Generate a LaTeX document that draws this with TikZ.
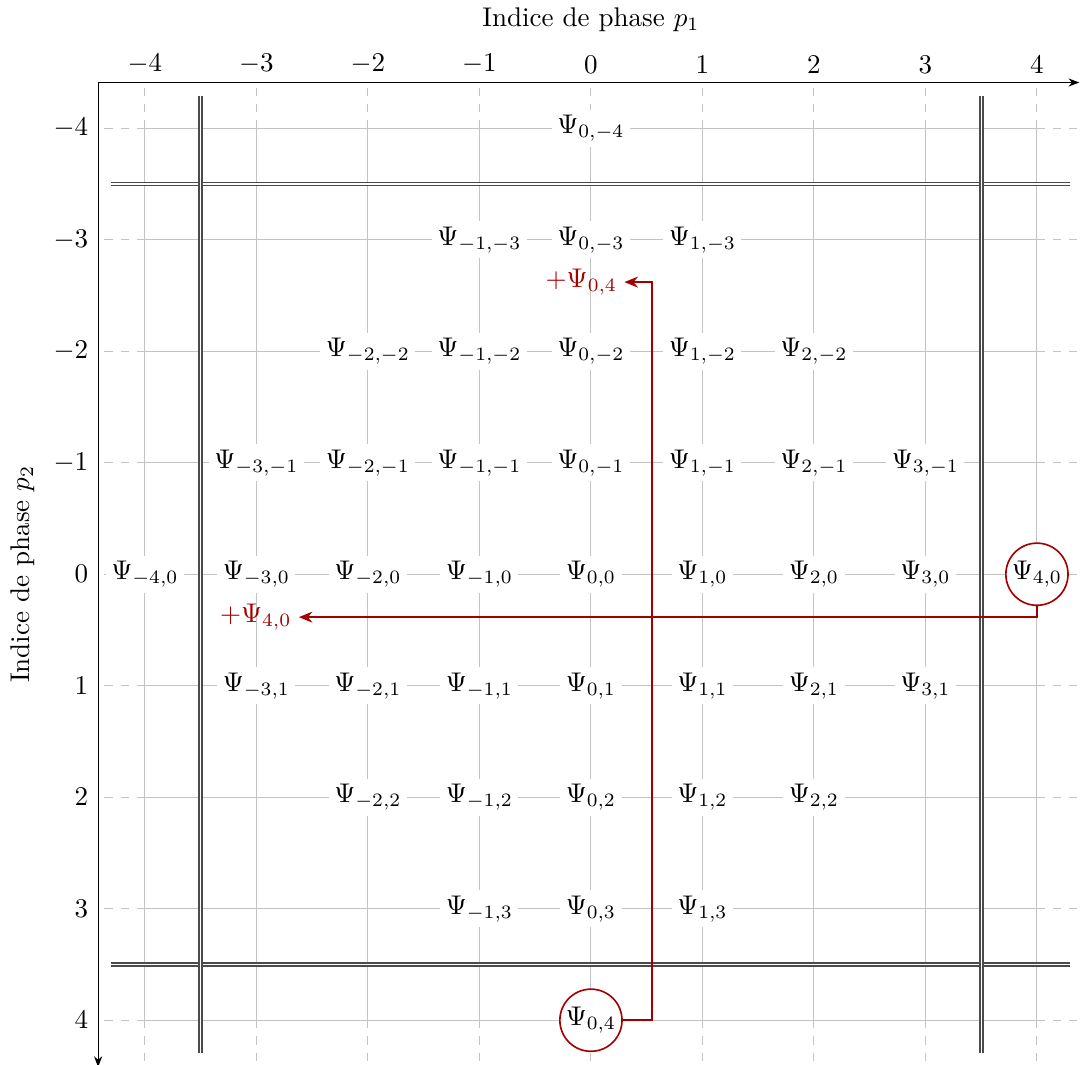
\documentclass[tikz,border=0pt]{standalone}
\usetikzlibrary{arrows.meta}
\definecolor{dred}{RGB}{165,0,0}
\definecolor{gridc}{RGB}{195,195,195}
\definecolor{dblc}{RGB}{75,75,75}
\tikzset{
  gridsolid/.style={draw=gridc, line width=0.4pt},
  griddash/.style={draw=gridc, line width=0.4pt, dash pattern=on 3pt off 3pt},
  dbl/.style={draw=dblc, double=white, double distance=0.5pt, line width=0.65pt},
  psi/.style={fill=white, inner sep=2pt},
  circ/.style={circle, draw=dred, fill=white, minimum size=23pt, inner sep=0pt, line width=0.6pt},
  redlbl/.style={text=dred, inner sep=2.5pt},
  redarrow/.style={draw=dred, line width=0.9pt, -{Stealth[length=5pt,width=4pt]}},
  axisline/.style={draw=black, line width=0.45pt, -{Stealth[length=4pt,width=3pt]}}
}
\begin{document}
\begin{tikzpicture}[x=1.45cm, y=-1.45cm]
\useasboundingbox (-5.30,-5.15) rectangle (4.395,4.40);
% grid
\foreach \i in {-4,...,4} {
  \draw[gridsolid] (\i,-4) -- (\i,4);
  \draw[griddash] (\i,-4) -- (\i,-4.41);
  \draw[griddash] (\i,4) -- (\i,4.38);
  \draw[gridsolid] (-4,\i) -- (4,\i);
  \draw[griddash] (-4,\i) -- (-4.42,\i);
  \draw[griddash] (4,\i) -- (4.38,\i);
}
% double lines
\draw[dbl] (-4.30,-3.5) -- (4.30,-3.5);
\draw[dbl] (-4.30,3.5) -- (4.30,3.5);
\draw[dbl] (-3.5,-4.29) -- (-3.5,4.29);
\draw[dbl] (3.5,-4.29) -- (3.5,4.29);
% Psi nodes
\foreach \p/\q in {0/-4,
  -1/-3, 0/-3, 1/-3,
  -2/-2, -1/-2, 0/-2, 1/-2, 2/-2,
  -3/-1, -2/-1, -1/-1, 0/-1, 1/-1, 2/-1, 3/-1,
  -4/0, -3/0, -2/0, -1/0, 0/0, 1/0, 2/0, 3/0,
  -3/1, -2/1, -1/1, 0/1, 1/1, 2/1, 3/1,
  -2/2, -1/2, 0/2, 1/2, 2/2,
  -1/3, 0/3, 1/3} {
  \node[psi] (n\p\q) at (\p,\q) {$\Psi_{\p,\q}$};
}
% circled nodes
\node[circ] (c40) at (4,0) {$\Psi_{4,0}$};
\node[circ] (c04) at (0,4) {$\Psi_{0,4}$};
% axes
\coordinate (o) at (-4.42,-4.41);
\coordinate (xe) at (4.38,-4.41);
\coordinate (ye) at (-4.42,4.42);
\draw[axisline] (o) -- (xe);
\draw[axisline] (o) -- (ye);
\foreach \i in {-4,...,4} {
  \node[above, inner sep=3pt] (tx\i) at (\i,-4.41) {$\i$};
  \node[left, inner sep=3.5pt] (ty\i) at (-4.42,\i) {$\i$};
}
\node (xt) at (0,-4.97) {Indice de phase $p_1$};
\node[rotate=90] (yt) at (-5.10,0) {Indice de phase $p_2$};
% red labels
\node[redlbl, anchor=east] (l40) at (-2.62,0.385) {$+\Psi_{4,0}$};
\node[redlbl, anchor=east] (l04) at (0.30,-2.62) {$+\Psi_{0,4}$};
\coordinate (k) at (0.55,-2.62);
% red arrows
\draw[redarrow] (c40.south) |- (l40.east);
\draw[redarrow] (c04.east) -| (k) -- (l04.east);
\end{tikzpicture}
\end{document}
